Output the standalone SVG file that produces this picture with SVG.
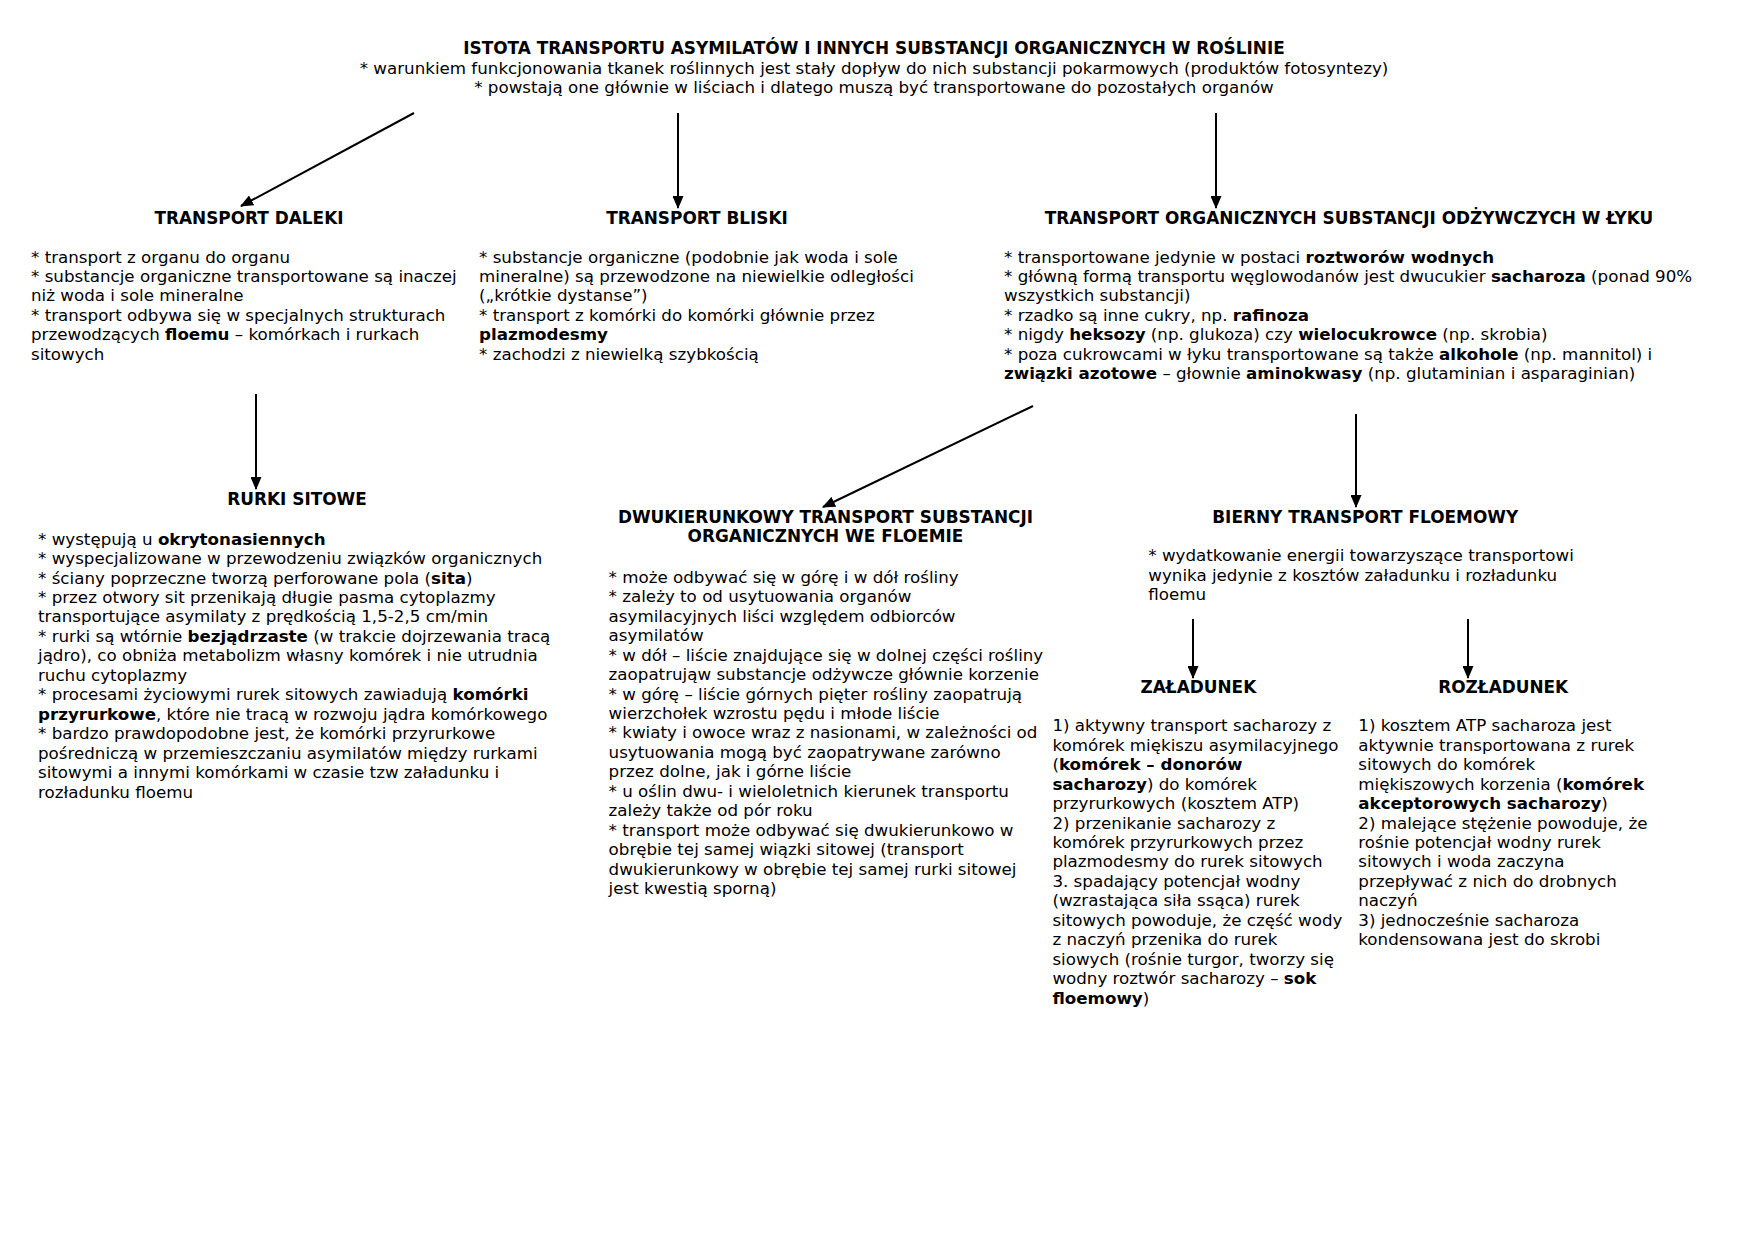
<svg xmlns="http://www.w3.org/2000/svg" width="1754" height="1240" viewBox="0 0 1754 1240">
<style>
text{font-family:"DejaVu Sans","Verdana",sans-serif;font-size:16.7px;fill:#000}
.h{font-weight:bold;text-anchor:middle;font-size:16.9px}
.t{text-anchor:middle}
.b{font-weight:bold}
.c{stroke:#000;stroke-width:2;fill:none;marker-end:url(#ah)}
</style>
<defs>
<marker id="ah" viewBox="0 0 13 11" refX="12" refY="5.5" markerWidth="13" markerHeight="11" markerUnits="userSpaceOnUse" orient="auto">
<path d="M0,0 L13,5.5 L0,11 Z" fill="#000"/>
</marker>
</defs>
<rect width="1754" height="1240" fill="#fff"/>
<g id="connectors">
<line class="c" x1="414" y1="113" x2="241" y2="206"/>
<line class="c" x1="678" y1="113" x2="678" y2="208"/>
<line class="c" x1="1216" y1="113" x2="1216" y2="208"/>
<line class="c" x1="256" y1="394" x2="256" y2="489"/>
<line class="c" x1="1033" y1="406" x2="823" y2="507"/>
<line class="c" x1="1356" y1="414" x2="1356" y2="507"/>
<line class="c" x1="1193" y1="619" x2="1193" y2="678"/>
<line class="c" x1="1468" y1="619" x2="1468" y2="678"/>
</g>
<g id="title">
<text class="h" x="874" y="54">ISTOTA TRANSPORTU ASYMILATÓW I INNYCH SUBSTANCJI ORGANICZNYCH W ROŚLINIE</text>
<text class="t" x="874" y="73.5">* warunkiem funkcjonowania tkanek roślinnych jest stały dopływ do nich substancji pokarmowych (produktów fotosyntezy)</text>
<text class="t" x="874" y="93">* powstają one głównie w liściach i dlatego muszą być transportowane do pozostałych organów</text>
</g>
<g id="transport-daleki">
<text class="h" x="249" y="224">TRANSPORT DALEKI</text>
<text x="31" y="262.5">* transport z organu do organu</text>
<text x="31" y="282">* substancje organiczne transportowane są inaczej</text>
<text x="31" y="301.4">niż woda i sole mineralne</text>
<text x="31" y="320.8">* transport odbywa się w specjalnych strukturach</text>
<text x="31" y="340.2">przewodzących <tspan class="b">floemu</tspan> – komórkach i rurkach</text>
<text x="31" y="359.6">sitowych</text>
</g>
<g id="transport-bliski">
<text class="h" x="697" y="224">TRANSPORT BLISKI</text>
<text x="479" y="262.5">* substancje organiczne (podobnie jak woda i sole</text>
<text x="479" y="282">mineralne) są przewodzone na niewielkie odległości</text>
<text x="479" y="301.4">(„krótkie dystanse”)</text>
<text x="479" y="320.8">* transport z komórki do komórki głównie przez</text>
<text x="479" y="340.2" class="b">plazmodesmy</text>
<text x="479" y="359.6">* zachodzi z niewielką szybkością</text>
</g>
<g id="transport-lyko">
<text class="h" x="1349" y="224">TRANSPORT ORGANICZNYCH SUBSTANCJI ODŻYWCZYCH W ŁYKU</text>
<text x="1004" y="262.5">* transportowane jedynie w postaci <tspan class="b">roztworów wodnych</tspan></text>
<text x="1004" y="282">* główną formą transportu węglowodanów jest dwucukier <tspan class="b">sacharoza</tspan> (ponad 90%</text>
<text x="1004" y="301.4">wszystkich substancji)</text>
<text x="1004" y="320.8">* rzadko są inne cukry, np. <tspan class="b">rafinoza</tspan></text>
<text x="1004" y="340.2">* nigdy <tspan class="b">heksozy</tspan> (np. glukoza) czy <tspan class="b">wielocukrowce</tspan> (np. skrobia)</text>
<text x="1004" y="359.6">* poza cukrowcami w łyku transportowane są także <tspan class="b">alkohole</tspan> (np. mannitol) i</text>
<text x="1004" y="379"><tspan class="b">związki azotowe</tspan> – głownie <tspan class="b">aminokwasy</tspan> (np. glutaminian i asparaginian)</text>
</g>
<g id="rurki-sitowe">
<text class="h" x="297" y="505.3">RURKI SITOWE</text>
<text x="38" y="544.6">* występują u <tspan class="b">okrytonasiennych</tspan></text>
<text x="38" y="564.1">* wyspecjalizowane w przewodzeniu związków organicznych</text>
<text x="38" y="583.5">* ściany poprzeczne tworzą perforowane pola (<tspan class="b">sita</tspan>)</text>
<text x="38" y="603">* przez otwory sit przenikają długie pasma cytoplazmy</text>
<text x="38" y="622.4">transportujące asymilaty z prędkością 1,5-2,5 cm/min</text>
<text x="38" y="641.9">* rurki są wtórnie <tspan class="b">bezjądrzaste</tspan> (w trakcie dojrzewania tracą</text>
<text x="38" y="661.3">jądro), co obniża metabolizm własny komórek i nie utrudnia</text>
<text x="38" y="680.8">ruchu cytoplazmy</text>
<text x="38" y="700.2">* procesami życiowymi rurek sitowych zawiadują <tspan class="b">komórki</tspan></text>
<text x="38" y="719.7"><tspan class="b">przyrurkowe</tspan>, które nie tracą w rozwoju jądra komórkowego</text>
<text x="38" y="739.2">* bardzo prawdopodobne jest, że komórki przyrurkowe</text>
<text x="38" y="758.6">pośredniczą w przemieszczaniu asymilatów między rurkami</text>
<text x="38" y="778.1">sitowymi a innymi komórkami w czasie tzw załadunku i</text>
<text x="38" y="797.5">rozładunku floemu</text>
</g>
<g id="dwukierunkowy">
<text class="h" x="825.5" y="523.2">DWUKIERUNKOWY TRANSPORT SUBSTANCJI</text>
<text class="h" x="825.5" y="542.3">ORGANICZNYCH WE FLOEMIE</text>
<text x="608.6" y="582.8">* może odbywać się w górę i w dół rośliny</text>
<text x="608.6" y="602.3">* zależy to od usytuowania organów</text>
<text x="608.6" y="621.7">asymilacyjnych liści względem odbiorców</text>
<text x="608.6" y="641.2">asymilatów</text>
<text x="608.6" y="660.6">* w dół – liście znajdujące się w dolnej części rośliny</text>
<text x="608.6" y="680.1">zaopatrująw substancje odżywcze głównie korzenie</text>
<text x="608.6" y="699.5">* w górę – liście górnych pięter rośliny zaopatrują</text>
<text x="608.6" y="719">wierzchołek wzrostu pędu i młode liście</text>
<text x="608.6" y="738.4">* kwiaty i owoce wraz z nasionami, w zależności od</text>
<text x="608.6" y="757.9">usytuowania mogą być zaopatrywane zarówno</text>
<text x="608.6" y="777.4">przez dolne, jak i górne liście</text>
<text x="608.6" y="796.8">* u oślin dwu- i wieloletnich kierunek transportu</text>
<text x="608.6" y="816.3">zależy także od pór roku</text>
<text x="608.6" y="835.7">* transport może odbywać się dwukierunkowo w</text>
<text x="608.6" y="855.2">obrębie tej samej wiązki sitowej (transport</text>
<text x="608.6" y="874.6">dwukierunkowy w obrębie tej samej rurki sitowej</text>
<text x="608.6" y="894.1">jest kwestią sporną)</text>
</g>
<g id="bierny">
<text class="h" x="1365.2" y="523.2">BIERNY TRANSPORT FLOEMOWY</text>
<text x="1148.3" y="561.4">* wydatkowanie energii towarzyszące transportowi</text>
<text x="1148.3" y="580.9">wynika jedynie z kosztów załadunku i rozładunku</text>
<text x="1148.3" y="600.3">floemu</text>
</g>
<g id="zaladunek">
<text class="h" x="1198.4" y="693.1">ZAŁADUNEK</text>
<text x="1052.4" y="731.2">1) aktywny transport sacharozy z</text>
<text x="1052.4" y="750.7">komórek miękiszu asymilacyjnego</text>
<text x="1052.4" y="770.1">(<tspan class="b">komórek – donorów</tspan></text>
<text x="1052.4" y="789.6"><tspan class="b">sacharozy</tspan>) do komórek</text>
<text x="1052.4" y="809">przyrurkowych (kosztem ATP)</text>
<text x="1052.4" y="828.5">2) przenikanie sacharozy z</text>
<text x="1052.4" y="847.9">komórek przyrurkowych przez</text>
<text x="1052.4" y="867.4">plazmodesmy do rurek sitowych</text>
<text x="1052.4" y="886.9">3. spadający potencjał wodny</text>
<text x="1052.4" y="906.3">(wzrastająca siła ssąca) rurek</text>
<text x="1052.4" y="925.8">sitowych powoduje, że część wody</text>
<text x="1052.4" y="945.2">z naczyń przenika do rurek</text>
<text x="1052.4" y="964.7">siowych (rośnie turgor, tworzy się</text>
<text x="1052.4" y="984.1">wodny roztwór sacharozy – <tspan class="b">sok</tspan></text>
<text x="1052.4" y="1003.6"><tspan class="b">floemowy</tspan>)</text>
</g>
<g id="rozladunek">
<text class="h" x="1503.2" y="693.1">ROZŁADUNEK</text>
<text x="1358.3" y="731.2">1) kosztem ATP sacharoza jest</text>
<text x="1358.3" y="750.7">aktywnie transportowana z rurek</text>
<text x="1358.3" y="770.1">sitowych do komórek</text>
<text x="1358.3" y="789.6">miękiszowych korzenia (<tspan class="b">komórek</tspan></text>
<text x="1358.3" y="809"><tspan class="b">akceptorowych sacharozy</tspan>)</text>
<text x="1358.3" y="828.5">2) malejące stężenie powoduje, że</text>
<text x="1358.3" y="847.9">rośnie potencjał wodny rurek</text>
<text x="1358.3" y="867.4">sitowych i woda zaczyna</text>
<text x="1358.3" y="886.9">przepływać z nich do drobnych</text>
<text x="1358.3" y="906.3">naczyń</text>
<text x="1358.3" y="925.8">3) jednocześnie sacharoza</text>
<text x="1358.3" y="945.2">kondensowana jest do skrobi</text>
</g>
</svg>
